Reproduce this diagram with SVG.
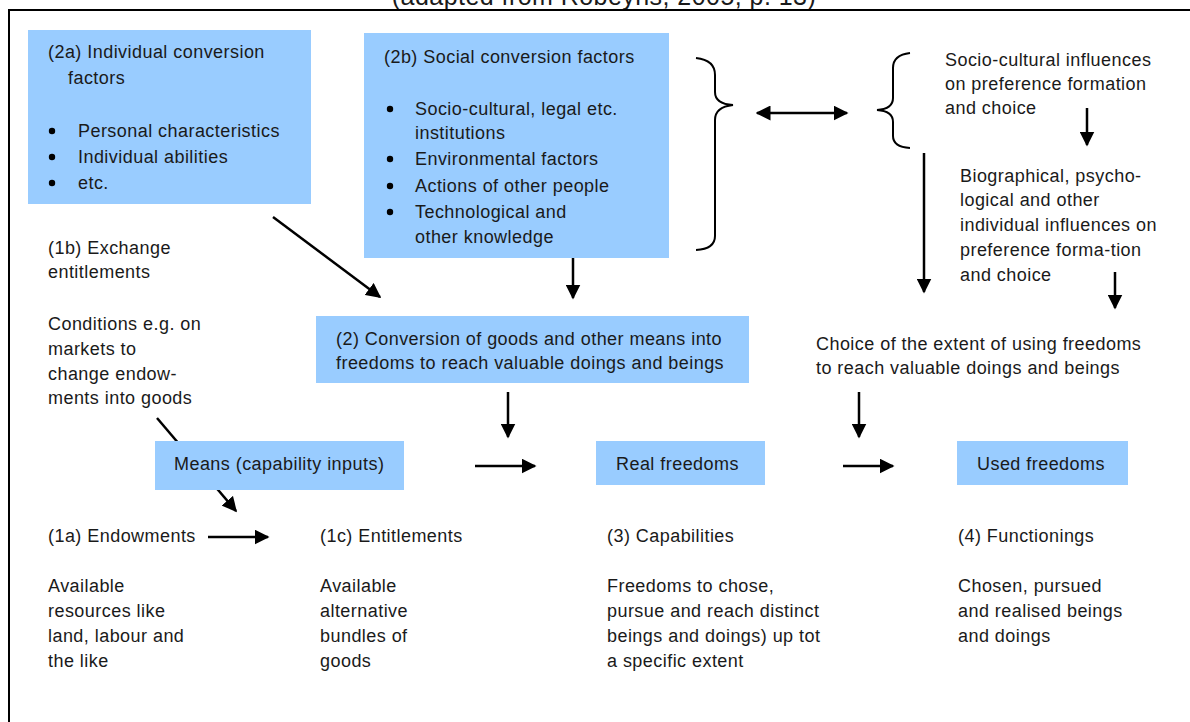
<svg xmlns="http://www.w3.org/2000/svg" width="1190" height="722" viewBox="0 0 1190 722">
<defs>
<style>
text{font-family:"Liberation Sans",Arial,sans-serif;font-size:18px;letter-spacing:0.45px;fill:#1a1a1a}
.box{fill:#99ccff}
.ln{stroke:#000;stroke-width:2.5;fill:none}
.br{stroke:#000;stroke-width:2;fill:none}
</style>
<marker id="ah" viewBox="0 0 10 10" refX="9" refY="5" markerWidth="6" markerHeight="6" orient="auto-start-reverse" markerUnits="strokeWidth">
<path d="M0,0 L10,5 L0,10 z" fill="#000"/>
</marker>
</defs>
<rect x="0" y="0" width="1190" height="722" fill="#fff"/>
<text x="604" y="5" text-anchor="middle" style="font-size:25px">(adapted from Robeyns, 2005, p. 13)</text>
<path d="M9,722 V10 H1190" stroke="#000" stroke-width="2" fill="none"/>

<g id="connectors">
<line class="ln" x1="157" y1="418" x2="236" y2="511" marker-end="url(#ah)"/>
<line class="ln" x1="273" y1="217" x2="380" y2="297" marker-end="url(#ah)"/>
<line class="ln" x1="573" y1="258" x2="573" y2="298" marker-end="url(#ah)"/>
<line class="ln" x1="508" y1="392" x2="508" y2="437" marker-end="url(#ah)"/>
<line class="ln" x1="475" y1="466" x2="535" y2="466" marker-end="url(#ah)"/>
<line class="ln" x1="843" y1="466" x2="893" y2="466" marker-end="url(#ah)"/>
<line class="ln" x1="859" y1="392" x2="859" y2="437" marker-end="url(#ah)"/>
<line class="ln" x1="208" y1="537" x2="268" y2="537" marker-end="url(#ah)"/>
<line class="ln" x1="757" y1="113" x2="847" y2="113" marker-start="url(#ah)" marker-end="url(#ah)"/>
<line class="ln" x1="1087" y1="108" x2="1087" y2="145" marker-end="url(#ah)"/>
<line class="ln" x1="924" y1="153" x2="924" y2="292" marker-end="url(#ah)"/>
<line class="ln" x1="1115" y1="272" x2="1115" y2="308" marker-end="url(#ah)"/>
<path class="br" d="M696,58 Q715,60 715,75 V92 Q715,104 733,105 Q715,107 715,120 V236 Q715,249 696,250"/>
<path class="br" d="M910,53 Q893,55 893,68 V98 Q893,109 877,110 Q893,111 893,122 V136 Q893,147 910,148"/>
</g>

<g id="n2a">
<rect class="box" x="28" y="30" width="283" height="174"/>
<text x="48" y="58">(2a) Individual conversion</text>
<text x="68" y="84">factors</text>
<circle cx="52" cy="131" r="3.2" fill="#000"/>
<circle cx="52" cy="157" r="3.2" fill="#000"/>
<circle cx="52" cy="183" r="3.2" fill="#000"/>
<text x="78" y="137">Personal characteristics</text>
<text x="78" y="163">Individual abilities</text>
<text x="78" y="189">etc.</text>
</g>

<g id="n2b">
<rect class="box" x="364" y="33" width="305" height="225"/>
<text x="384" y="63">(2b) Social conversion factors</text>
<circle cx="390" cy="109" r="3.2" fill="#000"/>
<circle cx="390" cy="159" r="3.2" fill="#000"/>
<circle cx="390" cy="186" r="3.2" fill="#000"/>
<circle cx="390" cy="212" r="3.2" fill="#000"/>
<text x="415" y="115">Socio-cultural, legal etc.</text>
<text x="415" y="139">institutions</text>
<text x="415" y="165">Environmental factors</text>
<text x="415" y="192">Actions of other people</text>
<text x="415" y="218">Technological and</text>
<text x="415" y="243">other knowledge</text>
</g>

<g id="nsocio">
<text x="945" y="66">Socio-cultural influences</text>
<text x="945" y="90">on preference formation</text>
<text x="945" y="114">and choice</text>
</g>

<g id="nbio">
<text x="960" y="182">Biographical, psycho-</text>
<text x="960" y="206">logical and other</text>
<text x="960" y="231">individual influences on</text>
<text x="960" y="256">preference forma-tion</text>
<text x="960" y="281">and choice</text>
</g>

<g id="n1b">
<text x="48" y="254">(1b) Exchange</text>
<text x="48" y="278">entitlements</text>
<text x="48" y="330">Conditions e.g. on</text>
<text x="48" y="355">markets to</text>
<text x="48" y="380">change endow-</text>
<text x="48" y="404">ments into goods</text>
</g>

<g id="n2">
<rect class="box" x="316" y="316" width="433" height="67"/>
<text x="336" y="345">(2) Conversion of goods and other means into</text>
<text x="336" y="369">freedoms to reach valuable doings and beings</text>
</g>

<g id="nchoice">
<text x="816" y="350">Choice of the extent of using freedoms</text>
<text x="816" y="374">to reach valuable doings and beings</text>
</g>

<g id="nmeans">
<rect class="box" x="155" y="441" width="249" height="49"/>
<text x="174" y="470">Means (capability inputs)</text>
</g>

<g id="nreal">
<rect class="box" x="596" y="441" width="169" height="44"/>
<text x="616" y="470">Real freedoms</text>
</g>

<g id="nused">
<rect class="box" x="957" y="441" width="171" height="44"/>
<text x="977" y="470">Used freedoms</text>
</g>

<g id="n1a">
<text x="48" y="542">(1a) Endowments</text>
<text x="48" y="592">Available</text>
<text x="48" y="617">resources like</text>
<text x="48" y="642">land, labour and</text>
<text x="48" y="667">the like</text>
</g>

<g id="n1c">
<text x="320" y="542">(1c) Entitlements</text>
<text x="320" y="592">Available</text>
<text x="320" y="617">alternative</text>
<text x="320" y="642">bundles of</text>
<text x="320" y="667">goods</text>
</g>

<g id="n3">
<text x="607" y="542">(3) Capabilities</text>
<text x="607" y="592">Freedoms to chose,</text>
<text x="607" y="617">pursue and reach distinct</text>
<text x="607" y="642">beings and doings) up tot</text>
<text x="607" y="667">a specific extent</text>
</g>

<g id="n4">
<text x="958" y="542">(4) Functionings</text>
<text x="958" y="592">Chosen, pursued</text>
<text x="958" y="617">and realised beings</text>
<text x="958" y="642">and doings</text>
</g>
</svg>
